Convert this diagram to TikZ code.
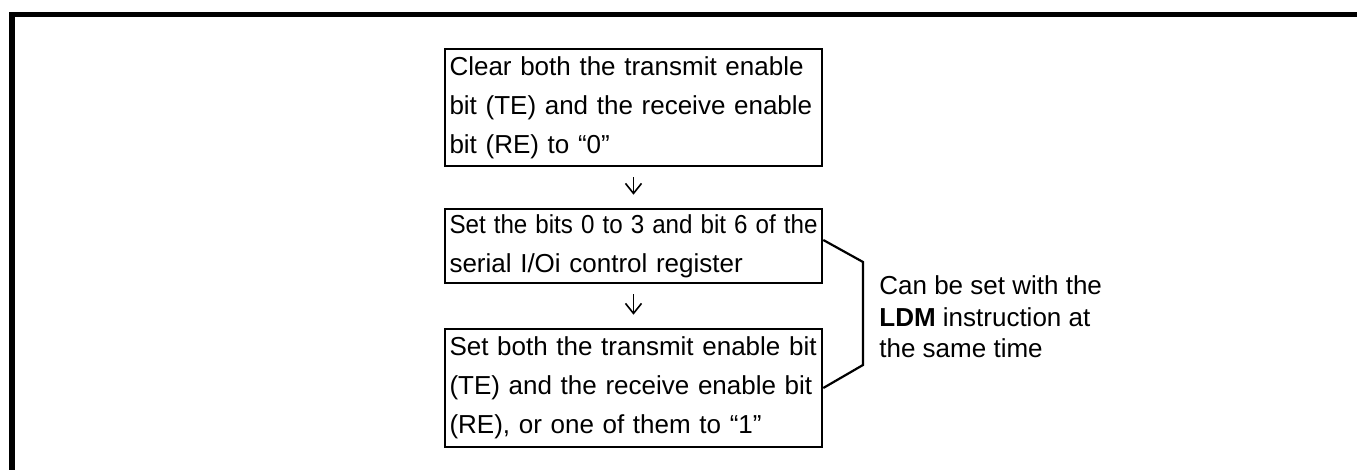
\documentclass[tikz,border=0pt]{standalone}
\usepackage{fontspec}
\setmainfont{Liberation Sans}
\usepackage{graphicx}
\usetikzlibrary{arrows.meta, positioning}

% one line spread over the full box width
\newcommand{\fullline}[1]{\makebox[\linewidth][s]{#1}}

\begin{document}
\begin{tikzpicture}[
  x=0.5pt, y=-0.5pt,
  every node/.style={font=\fontsize{13pt}{19.5pt}\selectfont},
  stepbox/.style={rectangle, draw, line width=1.3pt, text width=184pt, align=left,
                  inner xsep=2.25pt, inner ysep=0pt},
  note/.style={align=left, inner sep=2pt, font=\fontsize{13pt}{15.75pt}\selectfont},
  arrow/.style={-{Straight Barb[length=5pt, width=8pt]}, line width=0.8pt,
                shorten <=5pt, shorten >=6.5pt},
  bracket/.style={line width=1.1pt},
  frame/.style={line width=2.6pt},
]
\useasboundingbox (0,0) rectangle (1357,470);

% Frame (top and left edges only)
\draw[frame] (12,470) |- (1357,14.5);

% Step 1: clear TE and RE
\node[stepbox, minimum height=58.5pt] (clear) at (633.5,107.5)
  {\fullline{Clear both the transmit enable}\\\fullline{bit (TE) and the receive enable}\\bit (RE) to “0”};

% Step 2: control register bits
\node[stepbox, minimum height=37pt] (setreg) at (633.5,246)
  {\resizebox{\linewidth}{\height}{Set the bits 0 to 3 and bit 6 of the}\\serial I/Oi control register};
\draw[arrow] (clear) -- (setreg);

% Step 3: set TE and RE
\node[stepbox, minimum height=59pt] (enable) at (633.5,388)
  {\fullline{Set both the transmit enable bit}\\\fullline{(TE) and the receive enable bit}\\(RE), or one of them to “1”};
\draw[arrow] (setreg) -- (enable);

% Bracket over steps 2 and 3
\coordinate (brtop) at (863,262);
\coordinate (brbot) at (863,365);
\draw[bracket] ([yshift=3pt]setreg.east) -- (brtop) -- (brbot) -- (enable.east);

\node[note, anchor=west] (ldm) at (875,317)
  {Can be set with the\\\textbf{LDM} instruction at\\the same time};

\end{tikzpicture}
\end{document}
